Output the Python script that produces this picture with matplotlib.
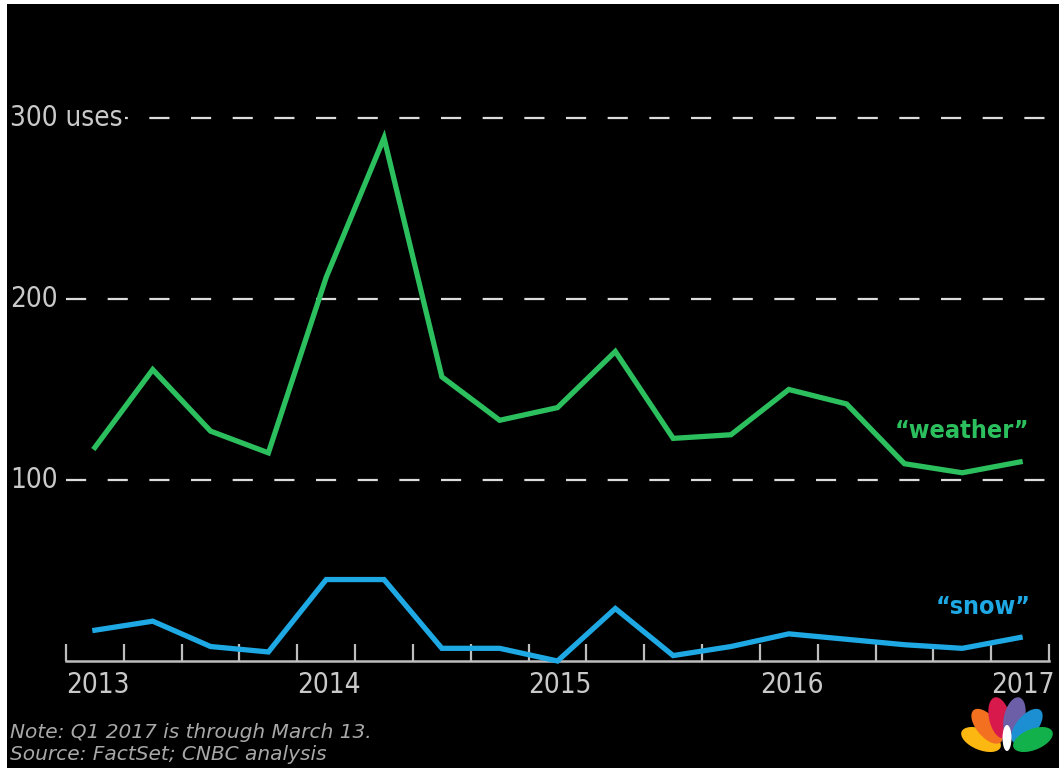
import math
import matplotlib
matplotlib.use("Agg")
import matplotlib.pyplot as plt
import matplotlib.transforms as mtransforms
from matplotlib.patches import Rectangle, Ellipse

# quarterly counts, Q1 2013 .. Q1 2017
quarters = ["Q1 2013", "Q2 2013", "Q3 2013", "Q4 2013",
            "Q1 2014", "Q2 2014", "Q3 2014", "Q4 2014",
            "Q1 2015", "Q2 2015", "Q3 2015", "Q4 2015",
            "Q1 2016", "Q2 2016", "Q3 2016", "Q4 2016",
            "Q1 2017"]
weather = [118, 161, 127, 115, 212, 289, 157, 133, 140, 171, 123, 125, 150, 142, 109, 104, 110]
snow = [17, 22, 8, 5, 45, 45, 7, 7, 0, 29, 3, 8, 15, 12, 9, 7, 13]
year_labels = ["2013", "2014", "2015", "2016", "2017"]
grid_values = [100, 200, 300]
grid_labels = ["100", "200", "300 uses"]

plt.rcParams["lines.scale_dashes"] = False

W, H = 1059, 768
fig = plt.figure(figsize=(W / 100, H / 100), dpi=100, facecolor="white")
# black panel with thin white margin on left/top like the source
fig.patches.append(Rectangle((7 / W, 0), 1 - 7 / W, 1 - 4 / H, transform=fig.transFigure,
                             facecolor="black", edgecolor="none", zorder=-10))

ax = fig.add_axes([66 / W, 107 / H, (1049 - 66) / W, 320 * 1.81 / H])
ax.set_facecolor("none")
ax.set_zorder(1)
ax.set_xlim(0, 17)
ax.set_ylim(0, 320)

green = "#2cbf5e"
blue = "#1ea9e4"
txt = "#c9c9c9"
font = dict(family="DejaVu Sans", stretch="condensed")

x = [i + 0.5 for i in range(len(quarters))]
ax.plot(x, weather, color=green, lw=3.8, solid_joinstyle="miter", zorder=4, clip_on=False)
ax.plot(x, snow, color=blue, lw=3.8, solid_joinstyle="miter", zorder=4, clip_on=False)

for v in grid_values:
    ax.axhline(v, xmin=0, xmax=1.02, color="#dcdcdc", lw=1.6, ls=(0, (14.5, 15.5)),
               clip_on=False, zorder=1)

blend = mtransforms.blended_transform_factory(fig.transFigure, ax.transData)
for v, lab in zip(grid_values, grid_labels):
    ax.text(10 / W, v, lab, transform=blend, ha="left", va="center", color=txt,
            fontsize=20, zorder=3, clip_on=False,
            bbox=dict(facecolor="black", edgecolor="none", pad=2), **font)

for s in ["top", "right", "left"]:
    ax.spines[s].set_visible(False)
ax.spines["bottom"].set_color("#bdbdbd")
ax.spines["bottom"].set_linewidth(1.8)
ax.set_yticks([])
ax.set_xticks(range(18))
ax.set_xticklabels([year_labels[i // 4] if i % 4 == 0 and i < 17 else "" for i in range(18)],
                   ha="left", color=txt, fontsize=20, **font)
ax.tick_params(axis="x", direction="in", length=12.5, width=1.6, color="#bdbdbd", pad=7)

ax.text(15.5, 127, "\u201cweather\u201d", color=green, fontsize=18, fontweight="bold",
        ha="center", va="center", **font)
ax.text(15.86, 30, "\u201csnow\u201d", color=blue, fontsize=18, fontweight="bold",
        ha="center", va="center", **font)

fig.text(10 / W, 1 - 732 / H, "Note: Q1 2017 is through March 13.", color="#a8a8a8",
         fontsize=14.5, style="italic", va="center", ha="left")
fig.text(10 / W, 1 - 755 / H, "Source: FactSet; CNBC analysis", color="#a8a8a8",
         fontsize=14.5, style="italic", va="center", ha="left")

# peacock logo, drawn in pixel units (y up)
px = mtransforms.Affine2D().scale(1 / W, 1 / H) + fig.transFigure
bx, by = 1007, H - 750
feathers = [(68, 28, "#fcb711"), (40, 31, "#f37021"), (13, 33, "#d7194b"),
            (-13, 33, "#6c5fa7"), (-40, 31, "#1b8fd1"), (-68, 28, "#13b14b")]
for ang, dist, col in feathers:
    r = math.radians(ang)
    fig.patches.append(Ellipse((bx - dist * math.sin(r), by + dist * math.cos(r)), 21, 42,
                               angle=ang, transform=px, facecolor=col, edgecolor="none",
                               zorder=5))
fig.patches.append(Ellipse((bx, by + 12), 9, 26, transform=px, facecolor="white",
                           edgecolor="none", zorder=6))

fig.savefig("out.png", dpi=100, facecolor=fig.get_facecolor())
